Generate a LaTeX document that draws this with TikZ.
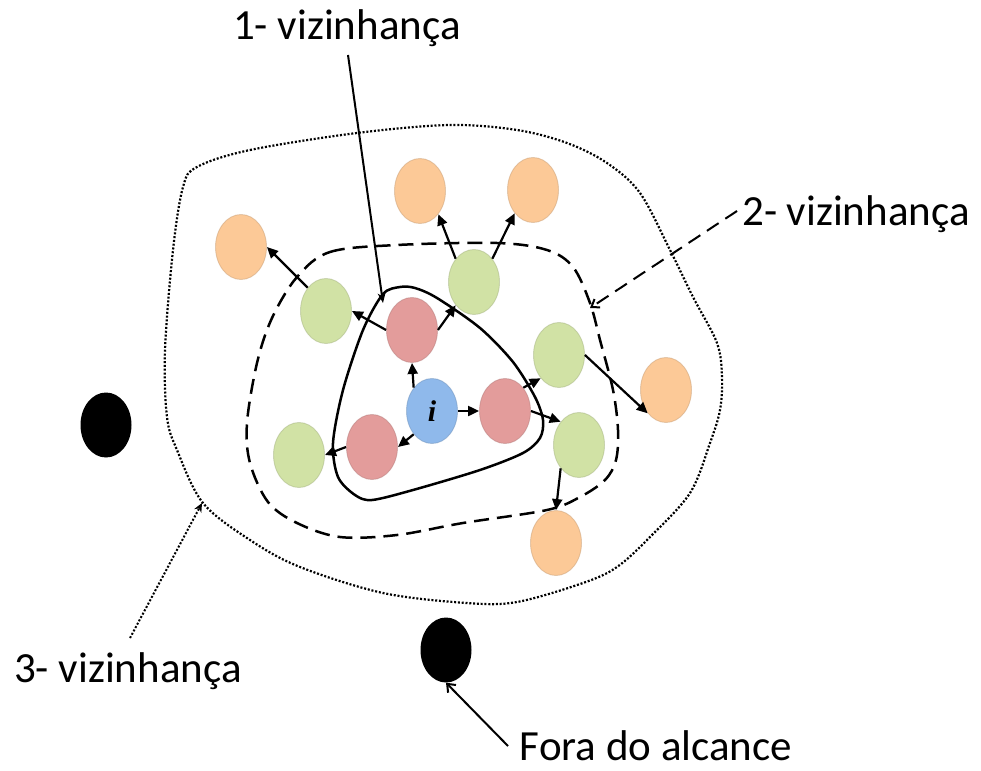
\documentclass[tikz,border=0pt]{standalone}
\usepackage{fontspec}
\setmainfont{Carlito}
\newfontfamily\ifont{Liberation Serif}
\usetikzlibrary{arrows.meta,shapes.geometric}

\definecolor{orangeN}{HTML}{FCC997}
\definecolor{greenN}{HTML}{D1E2A5}
\definecolor{redN}{HTML}{E39C9B}
\definecolor{blueN}{HTML}{8FB9EB}

\tikzset{
  vert/.style={ellipse, minimum width=51pt, minimum height=65pt, inner sep=0pt,
    fill=#1, draw=#1!80!black, draw opacity=0.5, line width=0.9pt},
  far/.style={ellipse, minimum width=51pt, minimum height=65pt, inner sep=0pt, fill=black},
  link/.style={line width=2.2pt, -{Triangle[length=11pt,width=10pt]}},
  label/.style={font=\fontsize{43}{50}\selectfont, anchor=base, inner sep=0pt},
  callout/.style={line width=2pt},
  ring1/.style={line width=2.5pt},
  ring2/.style={line width=2.5pt, dash pattern=on 15pt off 8pt},
  ring3/.style={line width=2.2pt, dash pattern=on 2pt off 1.8pt},
}

\begin{document}
\begin{tikzpicture}[x=1pt,y=-1pt]
\useasboundingbox (0,0) rectangle (981,770);

% neighbourhood boundaries
\draw[ring3] plot[smooth cycle, tension=0.55] coordinates {
  (197,167) (250,150) (357,133) (450,125) (517,130) (567,143) (607,163)
  (640,193) (670,250) (693,297) (717,343) (722,377) (720,410) (710,443)
  (690,493) (650,537) (617,567) (583,583) (517,602) (467,603) (383,593)
  (300,567) (250,540) (203,503) (177,450) (167,417) (165,350) (173,250)
  (183,187)};
\draw[ring2] plot[smooth cycle, tension=0.55] coordinates {
  (297,277) (330,252) (397,245) (497,243) (547,250) (573,267) (590,303)
  (600,340) (613,390) (618,430) (616,460) (605,480) (580,497) (547,510)
  (463,523) (397,535) (340,537) (297,523) (268,502) (250,463) (247,423)
  (257,363) (272,318)};
\draw[ring1] plot[smooth cycle, tension=0.5] coordinates {
  (400,287) (383,294) (363,330) (343,390) (333,443) (338,477) (355,495)
  (372,500) (413,490) (480,470) (523,453) (540,438) (543,420) (535,397)
  (513,362) (480,328) (437,298) (415,288)};

% vertices
\node[vert=blueN] (i) at (432,411) {\ifont\fontsize{30}{30}\selectfont\bfseries\itshape i};
\node[vert=redN] (r1) at (412,330) {};
\node[vert=redN] (r2) at (505,411) {};
\node[vert=redN] (r3) at (372,447) {};
\node[vert=greenN] (g1) at (326,311) {};
\node[vert=greenN] (g2) at (474,282) {};
\node[vert=greenN] (g3) at (559,355) {};
\node[vert=greenN] (g4) at (579,445) {};
\node[vert=greenN] (g5) at (299,455) {};
\node[vert=orangeN] (o1) at (241,247) {};
\node[vert=orangeN] (o2) at (420,191) {};
\node[vert=orangeN] (o3) at (533,190) {};
\node[vert=orangeN] (o4) at (666,390) {};
\node[vert=orangeN] (o5) at (556,543) {};
\node[far] (b1) at (106,425) {};
\node[far] (b2) at (446,650) {};

% links
\draw[link] (i.north west) -- (r1.south);
\draw[link] (i.east) -- (r2.west);
\draw[link] (i.south west) -- (r3.east);
\draw[link] (r1.west) -- (g1.east);
\draw[link] (r1.east) -- (g2.south west);
\draw[link] (r2.north east) -- (g3.south west);
\draw[link] (r2.east) -- (g4.north west);
\draw[link] (r3.west) -- (g5.east);
\draw[link] (g1.north west) -- (o1.east);
\draw[link] (g2.north west) -- (o2.south east);
\draw[link] (g2.north east) -- (o3.south west);
\draw[link] (g3.east) -- (o4.south west);
\draw[link] (g4.south west) -- (o5.north);

% labels
\node[label] (lab1) at (347,40) {1- vizinhança};
\node[label] (lab2) at (856,225) {2- vizinhança};
\node[label] (lab3) at (128,682) {3- vizinhança};
\node[label] (lab4) at (656,760) {Fora do alcance};

\coordinate (c1s) at (348,55);  \coordinate (c1e) at (383,303);
\coordinate (c2s) at (737,211); \coordinate (c2e) at (590,308);
\coordinate (c3s) at (130,638); \coordinate (c3e) at (202,503);
\coordinate (c4s) at (508,746);

\draw[callout, -{Stealth[length=10pt,width=8pt]}] (c1s) -- (c1e);
\draw[callout, dash pattern=on 14pt off 8pt, -{Straight Barb[length=7pt,width=10pt]}] (c2s) -- (c2e);
\draw[callout, dash pattern=on 2pt off 1.8pt, -{Stealth[length=9pt,width=8pt]}] (c3s) -- (c3e);
\draw[callout, -{Straight Barb[length=7pt,width=11pt]}] (c4s) -- (b2.south);
\end{tikzpicture}
\end{document}
